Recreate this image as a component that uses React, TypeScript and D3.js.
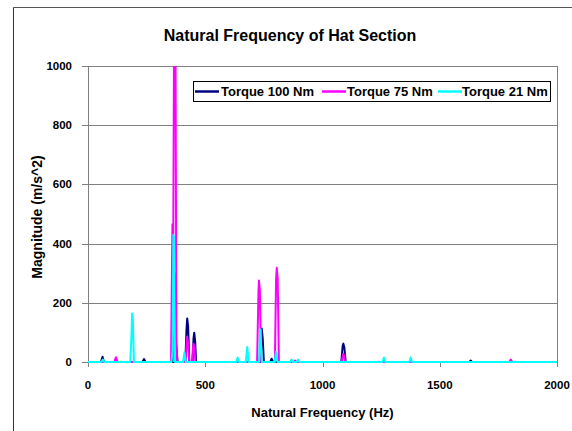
import React from "react";
import * as d3 from "d3";

const W = 572;
const H = 431;

const seriesNames = ["Torque 100 Nm", "Torque 75 Nm", "Torque 21 Nm"];
const seriesColors = ["#000080", "#FF00FF", "#00FFFF"];

// Torque 100 Nm
const freq100 = [0, 55, 62, 68, 232, 239, 245, 360, 370, 376, 382, 415, 420, 423, 427, 432, 446, 450, 453, 457, 461, 732, 738, 741, 745, 750, 777, 783, 789, 1080, 1086, 1089, 1093, 1099, 1626, 1632, 1638, 2000];
const mag100 = [0, 0, 18, 0, 0, 10, 0, 0, 300, 60, 0, 0, 110, 147, 120, 0, 0, 80, 99, 70, 0, 0, 90, 113, 80, 0, 0, 11, 0, 0, 55, 62, 50, 0, 0, 5, 0, 0];

// Torque 75 Nm
const freq75 = [0, 112, 119, 126, 354, 360, 363, 367, 373, 377, 381, 416, 421, 423, 427, 432, 443, 448, 450, 454, 458, 721, 727, 729, 733, 738, 797, 802, 805, 809, 814, 877, 883, 889, 1082, 1087, 1089, 1092, 1097, 1796, 1803, 1810, 2000];
const mag75 = [0, 0, 16, 0, 0, 465, 300, 1100, 1100, 60, 0, 0, 70, 85, 60, 0, 0, 50, 62, 45, 0, 0, 240, 275, 240, 0, 0, 280, 318, 280, 0, 0, 5, 0, 0, 25, 28, 20, 0, 0, 8, 0, 0];

// Torque 21 Nm
const freq21 = [0, 57, 63, 69, 180, 185, 188, 191, 196, 356, 361, 364, 367, 371, 405, 411, 417, 632, 638, 644, 673, 679, 685, 729, 734, 736, 741, 796, 802, 808, 862, 868, 874, 890, 896, 902, 1256, 1262, 1268, 1370, 1376, 1382, 2000];
const mag21 = [0, 0, 8, 0, 0, 80, 164, 150, 0, 0, 40, 430, 420, 0, 0, 32, 0, 0, 15, 0, 0, 51, 0, 0, 100, 110, 0, 0, 34, 0, 0, 8, 0, 0, 8, 0, 0, 15, 0, 0, 15, 0, 0];

const seriesFreqs = [freq100, freq75, freq21];
const seriesMags = [mag100, mag75, mag21];

const xTicks = [0, 500, 1000, 1500, 2000];
const yTicks = [0, 200, 400, 600, 800, 1000];

const FONT = "'Liberation Sans', Arial, sans-serif";

export default function App() {
  const left = 88, right = 557, top = 66, bottom = 362;
  const x = d3.scaleLinear().domain([0, 2000]).range([left, right]);
  const y = d3.scaleLinear().domain([0, 1000]).range([bottom, top]);
  const line = d3
    .line<[number, number]>()
    .x((d) => x(d[0]))
    .y((d) => y(d[1]));

  const legendItems = [
    { lx: 195, tx: 221 },
    { lx: 322, tx: 347 },
    { lx: 438, tx: 462 },
  ];

  return (
    <svg
      width={W}
      height={H}
      style={{ position: "absolute", left: 0, top: 0, background: "#fff" }}
      fontFamily={FONT}
    >
      <defs>
        <clipPath id="plotclip">
          <rect x={left} y={top} width={right - left} height={bottom - top + 2} />
        </clipPath>
      </defs>
      <rect x={0} y={0} width={W} height={H} fill="#fff" />
      {/* outer chart frame */}
      <line x1={13.5} y1={7.5} x2={W} y2={7.5} stroke="#555" strokeWidth={1} />
      <line x1={13.5} y1={7.5} x2={13.5} y2={H} stroke="#333" strokeWidth={1} />

      {/* title */}
      <text x={290} y={41} textAnchor="middle" fontSize={16} fontWeight="bold" fill="#000">
        Natural Frequency of Hat Section
      </text>

      {/* plot frame & grid */}
      {yTicks.filter((t) => t > 0).map((t) => (
        <line key={t} x1={left} x2={right} y1={Math.round(y(t)) + 0.5} y2={Math.round(y(t)) + 0.5} stroke="#808080" strokeWidth={1} />
      ))}
      <line x1={right + 0.5} x2={right + 0.5} y1={top} y2={bottom} stroke="#808080" strokeWidth={1} />

      {/* y axis */}
      <line x1={left + 0.5} x2={left + 0.5} y1={top} y2={bottom} stroke="#808080" strokeWidth={1} />
      {yTicks.map((t) => (
        <g key={t}>
          <line x1={left - 6} x2={left} y1={Math.round(y(t)) + 0.5} y2={Math.round(y(t)) + 0.5} stroke="#808080" />
          <text x={72} y={y(t) + 4} textAnchor="end" fontSize={11.5} fontWeight="bold" fill="#000">
            {t}
          </text>
        </g>
      ))}

      {/* x axis */}
      <line x1={left} x2={right + 1} y1={bottom + 0.5} y2={bottom + 0.5} stroke="#000" strokeWidth={1} />
      {xTicks.map((t) => (
        <g key={t}>
          <line x1={Math.round(x(t)) + 0.5} x2={Math.round(x(t)) + 0.5} y1={bottom} y2={bottom + 5} stroke="#808080" />
          <text x={x(t)} y={389} textAnchor="middle" fontSize={11.5} fontWeight="bold" fill="#000">
            {t}
          </text>
        </g>
      ))}

      {/* series */}
      <g clipPath="url(#plotclip)">
        {seriesFreqs.map((fs, i) => {
          const pts = fs.map((f, j) => [f, seriesMags[i][j]] as [number, number]);
          return (
            <path key={i} d={line(pts) || ""} fill="none" stroke={seriesColors[i]} strokeWidth={2} strokeLinejoin="round" />
          );
        })}
      </g>

      {/* axis titles */}
      <text x={(left + right) / 2} y={417} textAnchor="middle" fontSize={13} fontWeight="bold" fill="#000">
        Natural Frequency (Hz)
      </text>
      <text
        transform={`translate(42, ${(top + bottom) / 2 + 3}) rotate(-90)`}
        textAnchor="middle"
        fontSize={14}
        fontWeight="bold"
        fill="#000"
      >
        Magnitude (m/s^2)
      </text>

      {/* legend */}
      <rect x={193.5} y={81.5} width={357} height={20} fill="#fff" stroke="#000" strokeWidth={1} />
      {seriesNames.map((n, i) => (
        <g key={n}>
          <line x1={legendItems[i].lx} x2={legendItems[i].lx + 24} y1={91.5} y2={91.5} stroke={seriesColors[i]} strokeWidth={2.5} />
          <text x={legendItems[i].tx} y={96} fontSize={13} fontWeight="bold" fill="#000">
            {n}
          </text>
        </g>
      ))}
    </svg>
  );
}
